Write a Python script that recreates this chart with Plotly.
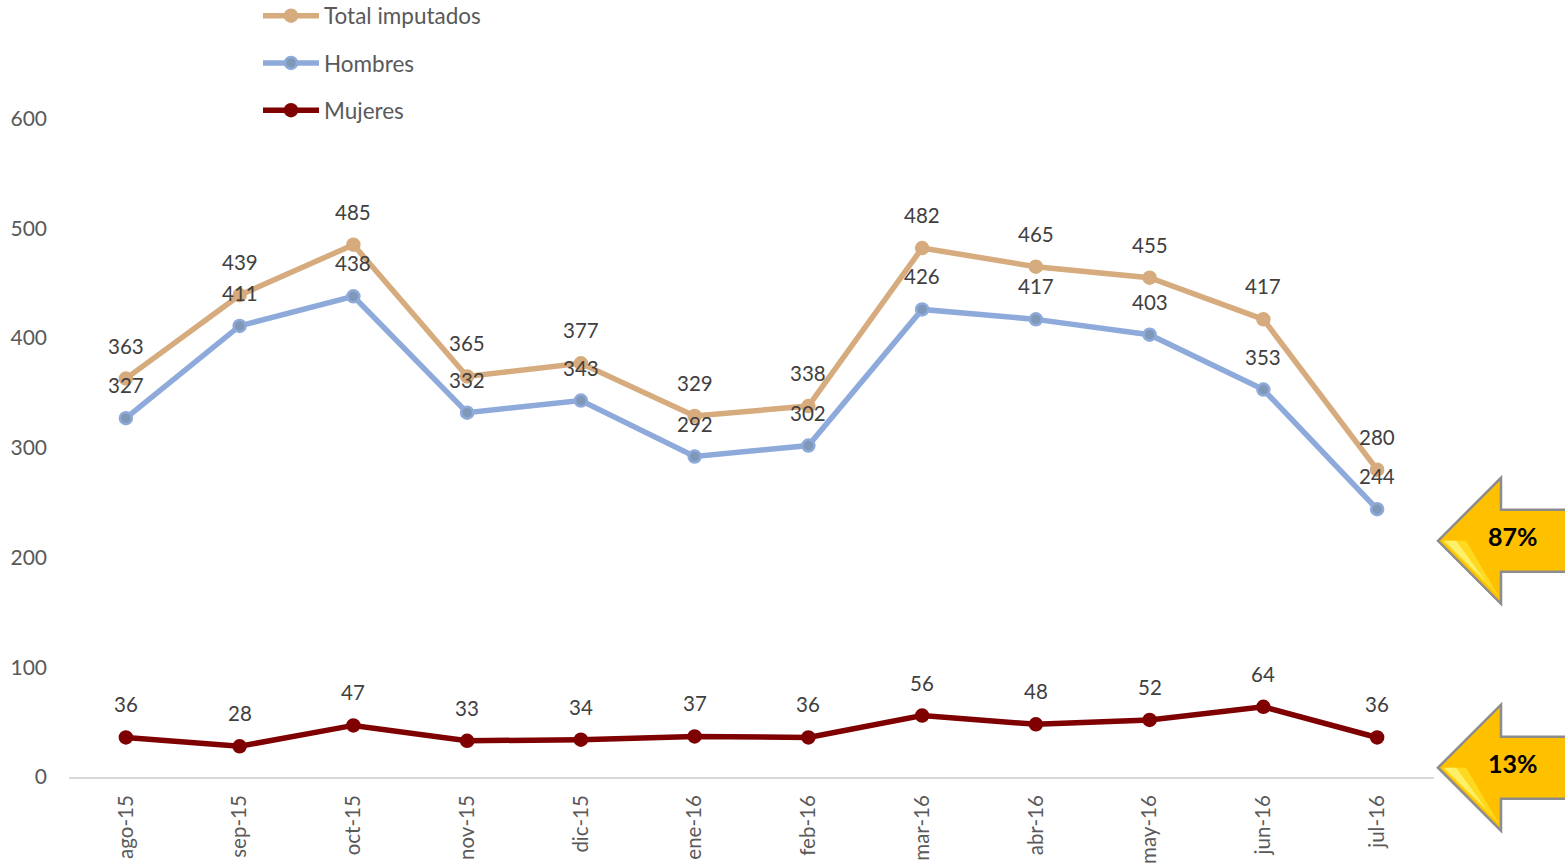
import plotly.graph_objects as go

months = ["ago-15","sep-15","oct-15","nov-15","dic-15","ene-16","feb-16","mar-16","abr-16","may-16","jun-16","jul-16"]
total = [363,439,485,365,377,329,338,482,465,455,417,280]
hombres = [327,411,438,332,343,292,302,426,417,403,353,244]
mujeres = [36,28,47,33,34,37,36,56,48,52,64,36]
callouts = ["87%", "13%"]

W, H = 1565, 866
L, R, T, B = 69, 131, 0, 88.7
FONT = "Lato, Carlito, sans-serif"

fig = go.Figure()
for name, vals, lc, mc, lw in [
    ("Total imputados", total, "#D6AB7D", "#D6AB7D", 5.5),
    ("Hombres", hombres, "#8EAADB", "#7F98B8", 5.5),
    ("Mujeres", mujeres, "#7F0000", "#7F0000", 5.5),
]:
    fig.add_trace(go.Scatter(
        x=months, y=vals, name=name, mode="lines+markers", legendgroup=name,
        line=dict(color=lc, width=lw),
        marker=dict(color=mc, size=12, line=dict(color=lc, width=2.5)),
        cliponaxis=False,
    ))

annotations = []
for vals in (total, hombres, mujeres):
    for m, v in zip(months, vals):
        annotations.append(dict(x=m, y=v, text=str(v), showarrow=False, yanchor="middle",
                                yshift=33, font=dict(family=FONT, size=20.5, color="#404040")))

def px(x, y):
    return (x - L) / (W - L - R), 1 - (y - T) / (H - T - B)

def path(pts):
    return "M " + " L ".join("%.5f,%.5f" % px(*p) for p in pts) + " Z"

shapes = []
for label, dy in zip(callouts, (0, 227)):
    body = [(1438,541),(1501,478),(1501,510),(1570,510),(1570,572),(1501,572),(1501,604)]
    shapes.append(dict(type="path", xref="paper", yref="paper", layer="above",
                       path=path([(x, y + dy) for x, y in body]),
                       fillcolor="#FFC000", line=dict(color="#8C8C8C", width=2.5)))
    shapes.append(dict(type="path", xref="paper", yref="paper", layer="above",
                       path=path([(x, y + dy) for x, y in [(1442,541),(1466,541),(1499,597)]]),
                       fillcolor="#FFD91F", line=dict(width=0)))
    shapes.append(dict(type="path", xref="paper", yref="paper", layer="above",
                       path=path([(x, y + dy) for x, y in [(1444,541),(1456,541),(1486,582)]]),
                       fillcolor="#FFF06A", line=dict(width=0)))
    ax, ay = px(1513, 536 + dy)
    annotations.append(dict(xref="paper", yref="paper", x=ax, y=ay, text="<b>%s</b>" % label,
                            xanchor="center", yanchor="middle",
                            showarrow=False, font=dict(family=FONT, size=25, color="#000000")))

fig.update_layout(
    width=W, height=H, margin=dict(l=L, r=R, t=T, b=B, pad=0, autoexpand=False),
    paper_bgcolor="white", plot_bgcolor="white",
    font=dict(family=FONT, size=20, color="#595959"),
    showlegend=True,
    legend=dict(x=(258 - L) / (W - L - R), xanchor="left", y=1.007, yanchor="top",
                orientation="v", traceorder="grouped", tracegroupgap=15, itemwidth=56,
                bgcolor="rgba(0,0,0,0)", font=dict(family=FONT, size=22.5, color="#595959"),
                itemclick=False, itemdoubleclick=False),
    annotations=annotations, shapes=shapes,
    xaxis=dict(type="category", range=[-0.5, 11.5], showgrid=False, showline=True,
               linecolor="#D9D9D9", linewidth=2, ticks="", tickangle=-90,
               ticklabelstandoff=8, tickfont=dict(family=FONT, size=20.5, color="#595959")),
    yaxis=dict(range=[0, 708], tickmode="array", tickvals=[0,100,200,300,400,500,600],
               showgrid=False, zeroline=False, showline=False, ticks="",
               ticklabelstandoff=21, tickfont=dict(family=FONT, size=21, color="#595959")),
)
fig.write_html("out.html", config=dict(displayModeBar=False),
               post_script="document.body.style.margin='0';document.documentElement.style.overflow='hidden';")
